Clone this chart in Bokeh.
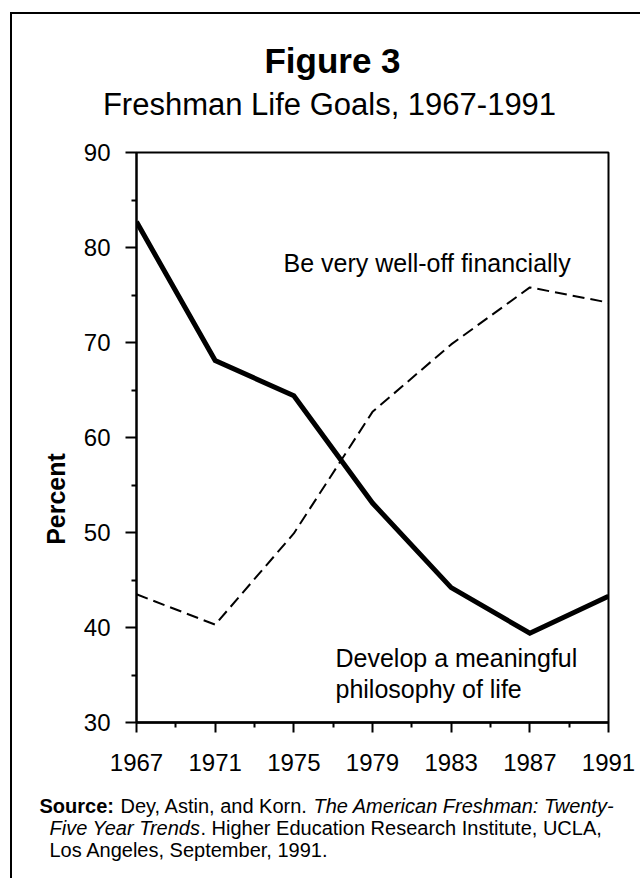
import math
from bokeh.plotting import figure
from bokeh.layouts import column, row
from bokeh.models import Range1d, FixedTicker, Label
from bokeh.embed import file_html
from bokeh.resources import INLINE

# ---------------- data ----------------
years = [1967, 1971, 1975, 1979, 1983, 1987, 1991]
philosophy = [82.7, 68.1, 64.4, 53.1, 44.2, 39.4, 43.3]   # Develop a meaningful philosophy of life
well_off = [43.5, 40.3, 49.9, 62.7, 69.8, 75.8, 74.2]     # Be very well-off financially
x_major_ticks = [1967, 1971, 1975, 1979, 1983, 1987, 1991]
x_minor_ticks = [1969, 1973, 1977, 1981, 1985, 1989]
y_major_ticks = [30, 40, 50, 60, 70, 80, 90]
y_minor_ticks = [35, 45, 55, 65, 75, 85]

title_text = "Figure 3"
subtitle_text = "Freshman Life Goals, 1967-1991"
y_label_text = "Percent"
well_off_label = "Be very well-off financially"
philosophy_label = ["Develop a meaningful", "philosophy of life"]
source_bold = "Source:"
source_line1_a = "Dey, Astin, and Korn."
source_line1_b = "The American Freshman: Twenty-"
source_line2_a = "Five Year Trends"
source_line2_b = ". Higher Education Research Institute, UCLA,"
source_line3 = "Los Angeles, September, 1991."

# ---------------- layout (page pixels) ----------------
FONT = "Liberation Sans"
MARGIN_L, MARGIN_T, BORDER = 10, 12, 2
OX, OY = MARGIN_L + BORDER, MARGIN_T + BORDER      # page position of content origin
W = 628
HEADER_H, MAIN_H, FOOTER_H = 110, 658, 96
LEFT_W = 60
MAIN_W = W - LEFT_W
MAIN_X, MAIN_Y = OX + LEFT_W, OY + HEADER_H       # page position of main canvas
FOOTER_Y = MAIN_Y + MAIN_H
FRAME_L, FRAME_R, FRAME_T, FRAME_B = 136, 608, 152, 722
X0, X1, Y0, Y1 = 1967, 1991, 30, 90
BASE_K = 0.37    # label anchor sits this fraction of the font size above the baseline


def dx(px):
    return X0 + (px - FRAME_L) * (X1 - X0) / (FRAME_R - FRAME_L)


def dy(py):
    return Y0 + (FRAME_B - py) * (Y1 - Y0) / (FRAME_B - FRAME_T)


def text_panel(w, h):
    f = figure(width=w, height=h, output_backend="svg", toolbar_location=None,
               x_range=Range1d(0, w), y_range=Range1d(h, 0),
               x_axis_type=None, y_axis_type=None, min_border=0)
    f.outline_line_color = None
    f.background_fill_color = "white"
    f.border_fill_color = "white"
    f.xgrid.visible = False
    f.ygrid.visible = False
    return f


def put(fig, left, top, text, px, py, size, align="left", style="normal"):
    """Place text with its baseline at page (px, py)."""
    fig.add_layout(Label(x=px - left, y=py - BASE_K * size - top, text=text,
                         text_font=FONT, text_font_size=f"{size}px",
                         text_font_style=style, text_align=align,
                         text_baseline="alphabetic", text_color="black"))


# ---------------- header ----------------
header = text_panel(W, HEADER_H)
put(header, OX, OY, title_text, 332, 73, 35, align="center", style="bold")
put(header, OX, OY, subtitle_text, 329, 115, 31, align="center")

# ---------------- left (axis title) ----------------
left = text_panel(LEFT_W, MAIN_H)
PCT_SIZE = 25
left.add_layout(Label(x=65 - BASE_K * PCT_SIZE - OX, y=524 - MAIN_Y, text=y_label_text,
                      text_font=FONT, text_font_size=f"{PCT_SIZE}px", text_font_style="bold",
                      text_align="center", text_baseline="alphabetic",
                      text_color="black", angle=math.pi / 2))

# ---------------- main chart ----------------
p = figure(width=MAIN_W, height=MAIN_H, output_backend="svg", toolbar_location=None,
           x_range=Range1d(X0, X1), y_range=Range1d(Y0, Y1),
           min_border_left=FRAME_L - MAIN_X,
           min_border_right=MAIN_W - (FRAME_R - MAIN_X),
           min_border_top=FRAME_T - MAIN_Y,
           min_border_bottom=MAIN_H - (FRAME_B - MAIN_Y))
p.background_fill_color = "white"
p.border_fill_color = "white"
p.outline_line_color = "black"
p.outline_line_width = 2
p.xgrid.visible = False
p.ygrid.visible = False

xa = p.xaxis[0]
xa.ticker = FixedTicker(ticks=x_major_ticks, minor_ticks=x_minor_ticks)
xa.axis_line_width = 2.5
xa.major_tick_line_width = 2
xa.minor_tick_line_width = 2
xa.major_tick_out = 10
xa.major_tick_in = 0
xa.minor_tick_out = 5
xa.minor_tick_in = 0
xa.major_label_standoff = 21
xa.major_label_text_font = FONT
xa.major_label_text_font_size = "24px"
xa.major_label_text_color = "black"
xa.axis_line_color = "black"

ya = p.yaxis[0]
ya.ticker = FixedTicker(ticks=y_major_ticks, minor_ticks=y_minor_ticks)
ya.axis_line_width = 2
ya.major_tick_line_width = 2
ya.minor_tick_line_width = 2
ya.major_tick_out = 11
ya.major_tick_in = 0
ya.minor_tick_out = 5
ya.minor_tick_in = 0
ya.major_label_standoff = 15
ya.major_label_text_font = FONT
ya.major_label_text_font_size = "24px"
ya.major_label_text_color = "black"
ya.axis_line_color = "black"

p.line(years, well_off, line_color="black", line_width=2, line_dash="12 6")
p.line(years, philosophy, line_color="black", line_width=5, line_join="miter")


def add_text(text, px, py, size, align="left", style="normal"):
    p.add_layout(Label(x=dx(px), y=dy(py - BASE_K * size), text=text, text_font=FONT,
                       text_font_size=f"{size}px", text_font_style=style,
                       text_align=align, text_baseline="alphabetic",
                       text_color="black"))


add_text(well_off_label, 283, 272, 25)
add_text(philosophy_label[0], 335, 667, 25)
add_text(philosophy_label[1], 335, 698, 25)

# ---------------- footer (source) ----------------
SRC = 20
footer = text_panel(W, FOOTER_H)
put(footer, OX, FOOTER_Y, source_bold, 39, 813, SRC, style="bold")
put(footer, OX, FOOTER_Y, source_line1_a, 120, 813, SRC)
put(footer, OX, FOOTER_Y, source_line1_b, 313, 813, SRC, style="italic")
put(footer, OX, FOOTER_Y, source_line2_a, 49, 835, SRC, style="italic")
put(footer, OX, FOOTER_Y, source_line2_b, 200, 835, SRC)
put(footer, OX, FOOTER_Y, source_line3, 49, 857, SRC)

layout = column(header, row(left, p, spacing=0), footer, spacing=0)
layout.styles = {"margin-left": f"{MARGIN_L}px", "margin-top": f"{MARGIN_T}px",
                 "border-left": f"{BORDER}px solid black",
                 "border-top": f"{BORDER}px solid black"}

open("out.html", "w").write(file_html(layout, INLINE))
